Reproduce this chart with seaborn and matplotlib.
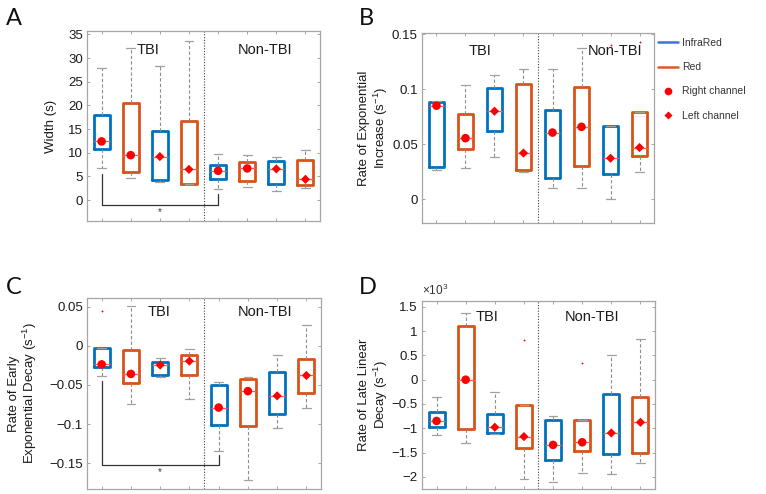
import numpy as np
import pandas as pd
import matplotlib
matplotlib.use("Agg")
import matplotlib.pyplot as plt
from matplotlib.lines import Line2D
import seaborn as sns

# box order in every panel: TBI (Right IR, Right Red, Left IR, Left Red), then Non-TBI same
box_colors = ["#0072BD", "#D95319"] * 4
channels = ["Right", "Right", "Left", "Left"] * 2
positions = np.arange(1, 9)

# A: width (s)
width_lo = [6.8, 4.6, 3.9, 3.4, 2.4, 2.8, 2.0, 2.6]
width_q1 = [10.7, 6.0, 4.2, 3.5, 4.4, 4.0, 3.4, 3.2]
width_med = [12.4, 9.5, 9.2, 6.5, 6.2, 6.7, 6.6, 4.4]
width_q3 = [18.0, 20.5, 14.7, 16.7, 7.5, 8.0, 8.3, 8.4]
width_hi = [28.0, 32.2, 28.3, 33.5, 9.7, 9.6, 9.2, 10.6]
width_fliers = [[], [], [], [], [], [], [], []]

# B: rate of exponential increase
inc_lo = [0.0264, 0.028, 0.038, 0.025, 0.0106, 0.010, 0.0, 0.0245]
inc_q1 = [0.0294, 0.0455, 0.062, 0.0264, 0.019, 0.030, 0.0233, 0.039]
inc_med = [0.085, 0.0555, 0.080, 0.042, 0.0606, 0.0658, 0.0373, 0.047]
inc_q3 = [0.0885, 0.0773, 0.101, 0.105, 0.081, 0.102, 0.067, 0.079]
inc_hi = [0.089, 0.104, 0.113, 0.118, 0.118, 0.1376, 0.067, 0.079]
inc_fliers = [[], [], [], [], [], [], [0.140], [0.143]]

# C: rate of early exponential decay
early_lo = [-0.0387, -0.075, -0.0396, -0.068, -0.134, -0.1715, -0.1055, -0.080]
early_q1 = [-0.0277, -0.047, -0.038, -0.0374, -0.101, -0.103, -0.087, -0.061]
early_med = [-0.0238, -0.036, -0.0247, -0.0196, -0.079, -0.058, -0.064, -0.038]
early_q3 = [-0.0026, -0.005, -0.021, -0.012, -0.0498, -0.0426, -0.033, -0.0166]
early_hi = [-0.0026, 0.0506, -0.0153, -0.0038, -0.046, -0.0396, -0.012, 0.027]
early_fliers = [[0.044], [], [], [], [], [], [], []]

# D: rate of late linear decay (x10^3)
late_lo = [-1.144, -1.295, -1.11, -2.048, -2.096, -1.918, -1.932, -1.705]
late_q1 = [-0.966, -1.014, -1.096, -1.404, -1.644, -1.473, -1.527, -1.514]
late_med = [-0.849, 0.0, -0.979, -1.171, -1.342, -1.288, -1.096, -0.877]
late_q3 = [-0.658, 1.096, -0.705, -0.514, -0.822, -0.836, -0.295, -0.356]
late_hi = [-0.356, 1.363, -0.247, -0.514, -0.753, -0.836, 0.507, 0.829]
late_fliers = [[], [], [], [0.822], [], [0.336], [], []]

sns.set_style("ticks")
plt.rcParams["font.family"] = ["Liberation Sans", "DejaVu Sans"]
plt.rcParams["mathtext.fontset"] = "custom"
plt.rcParams["mathtext.rm"] = "Liberation Sans"
plt.rcParams["mathtext.it"] = "Liberation Sans:italic"

fig = plt.figure(figsize=(7.66, 4.94), dpi=100)

frame_gray = "#a6a6a6"


def draw_panel(rect, lo, q1, med, q3, hi, fliers, ylim, yticks, yticklabels,
               ylabel, label_x, tbi_pos, non_pos, text_y, letter, letter_xy):
    ax = fig.add_axes(rect)
    stats = []
    for i in range(8):
        stats.append(dict(whislo=lo[i], q1=q1[i], med=med[i], q3=q3[i],
                          whishi=hi[i], fliers=fliers[i]))
    parts = ax.bxp(stats, positions=positions, widths=0.55, capwidths=0.3,
                   showfliers=True, manage_ticks=False,
                   whiskerprops=dict(color="#8c8c8c", linestyle=(0, (3, 2)), lw=0.8),
                   capprops=dict(color="#a0a0a0", lw=0.9),
                   medianprops=dict(color="#ff5a5a", lw=0.9),
                   flierprops=dict(marker="+", markeredgecolor="red",
                                   markersize=1.8, markeredgewidth=0.6))
    for box, c in zip(parts["boxes"], box_colors):
        box.set_color(c)
        box.set_linewidth(2.0)

    med_df = pd.DataFrame({"pos": positions, "med": med, "channel": channels})
    sns.scatterplot(data=med_df, x="pos", y="med", style="channel",
                    markers={"Right": "o", "Left": "D"},
                    size="channel", sizes={"Right": 38, "Left": 22},
                    color="red", edgecolor="none", legend=False, ax=ax, zorder=5)

    ax.axvline(4.5, color="#404040", lw=0.8, linestyle=(0, (1, 1.5)))
    ax.set_xlim(0.5, 8.5)
    ax.set_ylim(*ylim)
    ax.set_xticks(positions)
    ax.set_xticklabels([])
    ax.set_yticks(yticks)
    ax.set_yticklabels(yticklabels, fontsize=9.5, color="#1a1a1a")
    ax.set_xlabel("")
    ax.set_ylabel(ylabel, fontsize=9.5, color="#1a1a1a", linespacing=1.1)
    ax.yaxis.set_label_coords(label_x, 0.5)
    ax.tick_params(direction="in", length=2.5, width=0.7, color=frame_gray,
                   top=True, right=True, pad=3)
    for s in ax.spines.values():
        s.set_color(frame_gray)
        s.set_linewidth(0.9)
    ax.text(tbi_pos, text_y, "TBI", ha="center", va="center", fontsize=10.5,
            color="#1a1a1a")
    ax.text(non_pos, text_y, "Non-TBI", ha="center", va="center", fontsize=10.5,
            color="#1a1a1a")
    fig.text(letter_xy[0], letter_xy[1], letter, fontsize=17, family=["Lato", "DejaVu Sans"],
             ha="left", va="center", color="#111111")
    return ax


ax_a = draw_panel([0.1136, 0.5526, 0.3042, 0.3846], width_lo, width_q1, width_med,
                  width_q3, width_hi, width_fliers, (-4.4, 35.7),
                  [0, 5, 10, 15, 20, 25, 30, 35],
                  ["0", "5", "10", "15", "20", "25", "30", "35"],
                  "Width (s)", -0.128, 2.6, 6.6, 31.8, "A", (0.008, 0.962))

ax_b = draw_panel([0.5509, 0.5486, 0.3029, 0.3846], inc_lo, inc_q1, inc_med,
                  inc_q3, inc_hi, inc_fliers, (-0.0215, 0.151),
                  [0, 0.05, 0.1, 0.15], ["0", "0.05", "0.1", "0.15"],
                  "Rate of Exponential\nIncrease (s$^{-1}$)", -0.138, 2.5, 7.15,
                  0.135, "B", (0.468, 0.962))

ax_c = draw_panel([0.1136, 0.0101, 0.3055, 0.3867], early_lo, early_q1, early_med,
                  early_q3, early_hi, early_fliers, (-0.183, 0.061),
                  [-0.15, -0.1, -0.05, 0, 0.05],
                  ["\u22120.15", "\u22120.1", "\u22120.05", "0", "0.05"],
                  "Rate of Early\nExponential Decay (s$^{-1}$)", -0.205, 2.95, 6.6,
                  0.043, "C", (0.008, 0.418))

ax_d = draw_panel([0.5509, 0.0101, 0.3042, 0.3806], late_lo, late_q1, late_med,
                  late_q3, late_hi, late_fliers, (-2.25, 1.62),
                  [-2, -1.5, -1, -0.5, 0, 0.5, 1, 1.5],
                  ["\u22122", "\u22121.5", "\u22121", "\u22120.5", "0", "0.5", "1", "1.5"],
                  "Rate of Late Linear\nDecay (s$^{-1}$)", -0.138, 2.73, 6.35,
                  1.29, "D", (0.468, 0.418))
ax_d.text(0.0, 1.015, "\u00d710$^{3}$", transform=ax_d.transAxes, fontsize=8.5,
          color="#333333", ha="left", va="bottom")

# significance brackets
ax_a.plot([1, 1, 5, 5], [5.5, -1.0, -1.0, 1.2], color="#333333", lw=0.9)
ax_a.text(3, -2.6, "*", ha="center", va="center", fontsize=7, color="#333333")
ax_c.plot([1, 1, 5, 5], [-0.045, -0.1523, -0.1523, -0.139], color="#333333", lw=0.9)
ax_c.text(3, -0.162, "*", ha="center", va="center", fontsize=7, color="#333333")

handles = [
    Line2D([], [], color="#3f73d6", lw=1.8),
    Line2D([], [], color="#dd5a22", lw=1.8),
    Line2D([], [], color="red", marker="o", linestyle="none", markersize=5.5,
           markeredgecolor="none"),
    Line2D([], [], color="red", marker="D", linestyle="none", markersize=4,
           markeredgecolor="none"),
]
fig.legend(handles, ["InfraRed", "Red", "Right channel", "Left channel"],
           loc="upper left", bbox_to_anchor=(0.859, 0.923), frameon=False,
           fontsize=7.5, labelcolor="#333333", handlelength=1.9,
           handletextpad=0.4, labelspacing=1.36, borderpad=0, borderaxespad=0)

fig.savefig("out.png", dpi=100)
